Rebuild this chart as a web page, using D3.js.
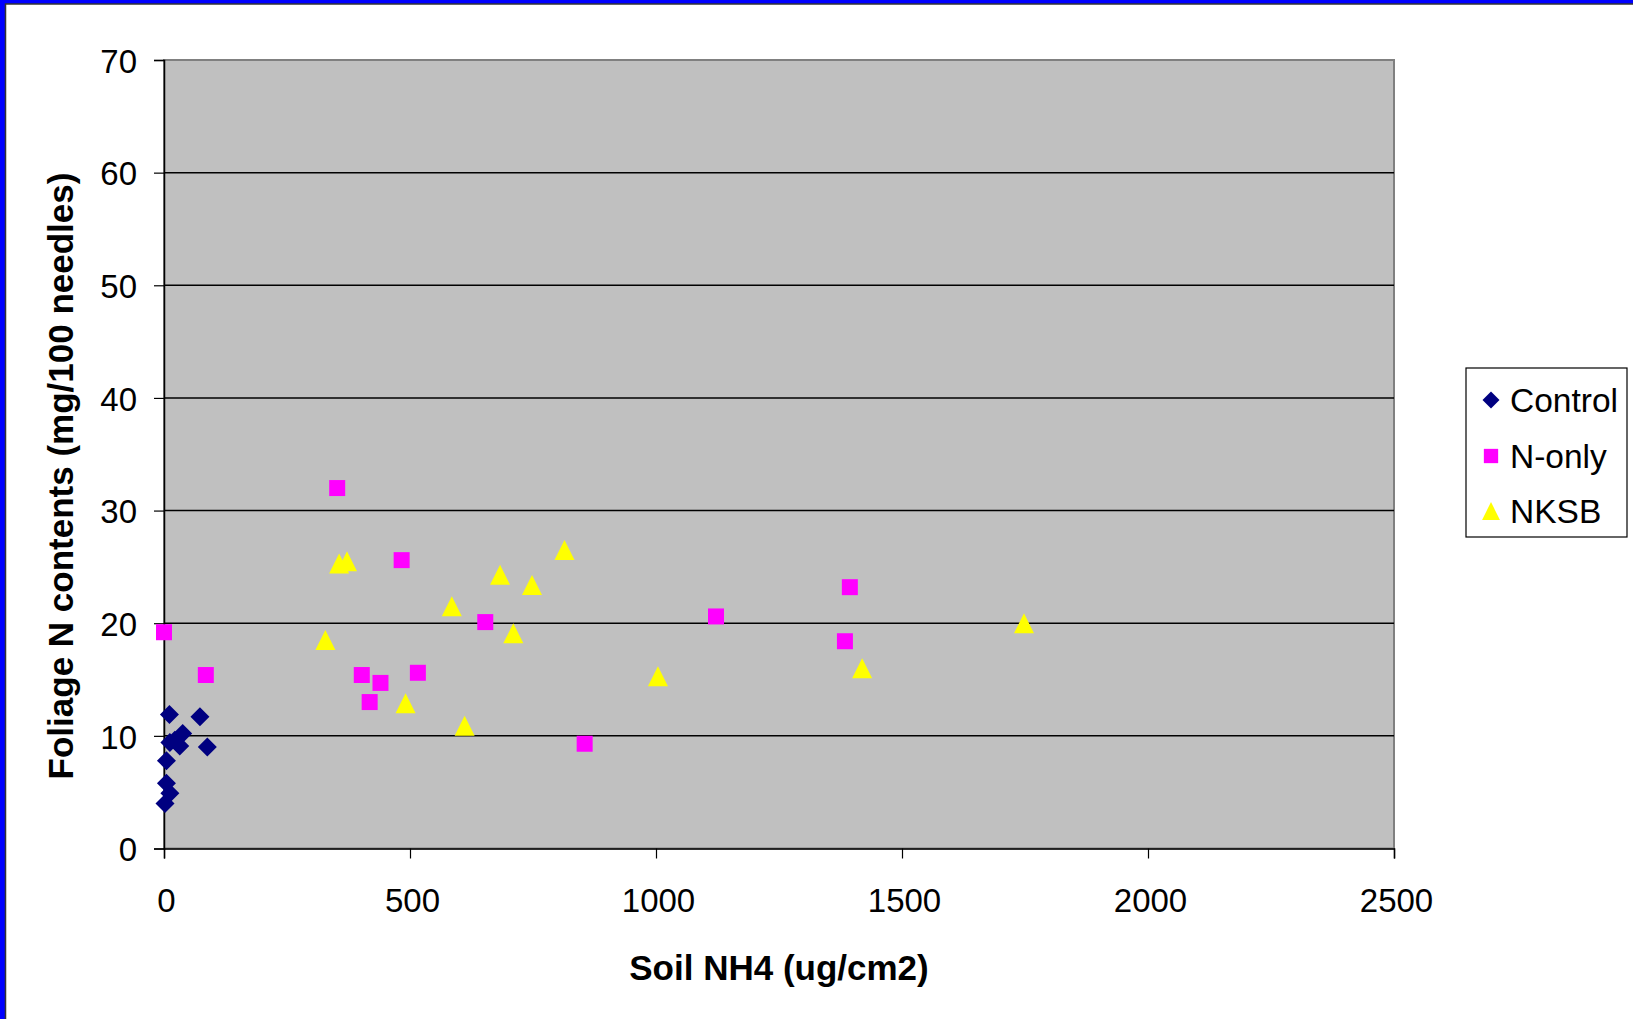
<!DOCTYPE html>
<html>
<head>
<meta charset="utf-8">
<script src="https://cdn.jsdelivr.net/npm/d3@7"></script>
<style>
  body { margin: 0; background: #fff; }
  svg { display: block; font-family: "Liberation Sans", Arial, sans-serif; }
</style>
</head>
<body>
<div id="chart"></div>
<script>
// Series data (Soil NH4 ug/cm2, Foliage N mg/100 needles)
var controlX = [11, 73, 38, 12, 32, 88, 5, 5, 12, 2, 22];
var controlY = [11.9, 11.7, 10.2, 9.4, 9.1, 9.0, 7.8, 5.8, 4.9, 4.0, 9.6];

var nOnlyX = [0, 85, 352, 483, 402, 440, 418, 516, 653, 855, 1122, 1384, 1394];
var nOnlyY = [19.2, 15.4, 32.0, 25.6, 15.4, 14.7, 13.0, 15.6, 20.1, 9.3, 20.6, 18.4, 23.2];

var nksbX = [328, 356, 372, 491, 585, 611, 683, 710, 748, 814, 1004, 1419, 1748];
var nksbY = [18.5, 25.3, 25.5, 12.9, 21.5, 10.9, 24.3, 19.1, 23.4, 26.5, 15.3, 16.0, 20.0];

var xTicks = [0, 500, 1000, 1500, 2000, 2500];
var yTicks = [0, 10, 20, 30, 40, 50, 60, 70];

var seriesNames = ["Control", "N-only", "NKSB"];

//Width and height
var w = 1633;
var h = 1019;
var plot = { left: 164, top: 60, right: 1394, bottom: 848.5 };

var svg = d3.select("#chart")
    .append("svg")
    .attr("width", w)
    .attr("height", h);

//Slide frame (blue, only top and left visible)
svg.append("rect")
    .attr("x", 2.5).attr("y", 1.5)
    .attr("width", w + 20).attr("height", h + 20)
    .attr("fill", "none")
    .attr("stroke", "#0000ff")
    .attr("stroke-width", 5);
svg.append("rect")
    .attr("x", 5.5).attr("y", 4)
    .attr("width", w + 20).attr("height", h + 20)
    .attr("fill", "none")
    .attr("stroke", "#333")
    .attr("stroke-width", 1.5);

//Scales
var x = d3.scaleLinear().domain([0, 2500]).range([plot.left, plot.right]);
var y = d3.scaleLinear().domain([0, 70]).range([plot.bottom, plot.top]);

//Plot area
svg.append("rect")
    .attr("x", plot.left)
    .attr("y", plot.top)
    .attr("width", plot.right - plot.left)
    .attr("height", plot.bottom - plot.top)
    .attr("fill", "#c0c0c0")
    .attr("stroke", "#808080")
    .attr("stroke-width", 2);

//Gridlines
svg.append("g")
    .selectAll("line")
    .data(yTicks.filter(d => d > 0))
    .join("line")
    .attr("x1", plot.left)
    .attr("x2", plot.right)
    .attr("y1", d => y(d))
    .attr("y2", d => y(d))
    .attr("stroke", d => d === 70 ? "#808080" : "#000")
    .attr("stroke-width", 1.5);

//Axes
var xAxis = svg.append("g")
    .attr("transform", `translate(0,${plot.bottom})`)
    .call(d3.axisBottom(x).tickValues(xTicks).tickSize(10).tickPadding(30).tickFormat(d3.format("d")));

var yAxis = svg.append("g")
    .attr("transform", `translate(${plot.left},0)`)
    .call(d3.axisLeft(y).tickValues(yTicks).tickSize(10).tickPadding(17).tickFormat(d3.format("d")));

[xAxis, yAxis].forEach(a => {
    a.selectAll("path.domain").attr("stroke", "#000").attr("stroke-width", 1.5);
    a.selectAll(".tick line").attr("stroke", "#000").attr("stroke-width", 1.2);
    a.selectAll("text")
        .attr("fill", "#000")
        .style("font-size", "33px")
        .style("font-family", "'Liberation Sans', Arial, sans-serif");
});
yAxis.selectAll("text").attr("dy", "0.37em");
xAxis.selectAll("text").attr("dx", 2);

//Axis titles
svg.append("text")
    .attr("x", (plot.left + plot.right) / 2)
    .attr("y", 980)
    .attr("text-anchor", "middle")
    .style("font-size", "35px")
    .style("font-weight", "bold")
    .text("Soil NH4 (ug/cm2)");

svg.append("text")
    .attr("transform", "translate(73,476) rotate(-90)")
    .attr("text-anchor", "middle")
    .style("font-size", "35px")
    .style("font-weight", "bold")
    .text("Foliage N contents (mg/100 needles)");

//Marker shapes
var diamond = {
    draw(ctx, size) {
        var r = Math.sqrt(size) / 2;
        ctx.moveTo(0, -r); ctx.lineTo(r, 0); ctx.lineTo(0, r); ctx.lineTo(-r, 0); ctx.closePath();
    }
};
var square = {
    draw(ctx, size) {
        var r = Math.sqrt(size) / 2;
        ctx.rect(-r, -r, 2 * r, 2 * r);
    }
};
var triangle = {
    draw(ctx, size) {
        var r = Math.sqrt(size) / 2;
        ctx.moveTo(0, -r); ctx.lineTo(r, r); ctx.lineTo(-r, r); ctx.closePath();
    }
};

var series = [
    { name: seriesNames[0], xs: controlX, ys: controlY, type: diamond, size: 19 * 19, color: "#000080" },
    { name: seriesNames[1], xs: nOnlyX, ys: nOnlyY, type: square, size: 16 * 16, color: "#ff00ff" },
    { name: seriesNames[2], xs: nksbX, ys: nksbY, type: triangle, size: 20 * 20, color: "#ffff00" }
];

//Points
series.forEach(s => {
    svg.append("g")
        .selectAll("path")
        .data(s.xs.map((v, i) => [v, s.ys[i]]))
        .join("path")
        .attr("transform", d => `translate(${x(d[0])},${y(d[1])})`)
        .attr("d", d3.symbol().type(s.type).size(s.size))
        .attr("fill", s.color);
});

//Legend
var legend = svg.append("g").attr("transform", "translate(1466,368)");
legend.append("rect")
    .attr("width", 161)
    .attr("height", 169)
    .attr("fill", "#fff")
    .attr("stroke", "#000")
    .attr("stroke-width", 1.2);

var item = legend.selectAll("g.item")
    .data(series)
    .join("g")
    .attr("class", "item")
    .attr("transform", (d, i) => `translate(0,${[32, 88, 143][i]})`);

item.append("path")
    .attr("transform", "translate(25,0)")
    .attr("d", d => d3.symbol().type(d.type).size(d === series[0] ? 17 * 17 : d.size * 0.8)())
    .attr("fill", d => d.color);

item.append("text")
    .attr("x", 44)
    .attr("dy", "0.35em")
    .style("font-size", "33.5px")
    .text(d => d.name);
</script>
</body>
</html>
